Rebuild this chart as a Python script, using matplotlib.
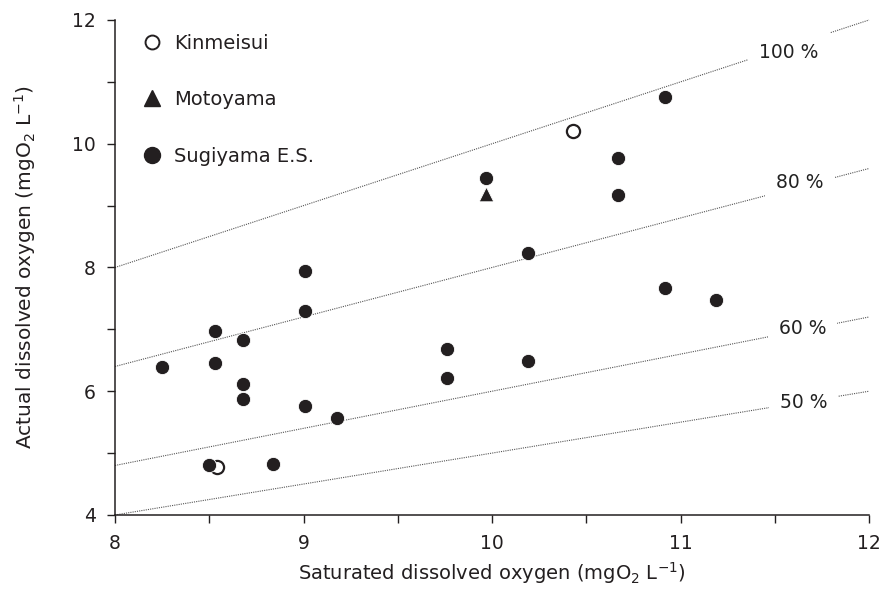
import matplotlib
matplotlib.use("Agg")
import matplotlib.pyplot as plt
from matplotlib.lines import Line2D
from matplotlib.ticker import MultipleLocator
import numpy as np

plt.rcParams['font.family'] = ['DejaVu Sans']

# Data
sugi_x = [8.25, 8.53, 8.53, 8.68, 8.68, 8.68, 8.50, 8.84, 9.01, 9.01, 9.01, 9.18,
          9.76, 9.76, 9.97, 10.19, 10.19, 10.67, 10.67, 10.92, 10.92, 11.19]
sugi_y = [6.39, 6.98, 6.45, 6.83, 6.11, 5.87, 4.80, 4.83, 7.95, 7.30, 5.76, 5.56,
          6.69, 6.22, 9.44, 8.23, 6.49, 9.77, 9.17, 10.75, 7.67, 7.47]
kin_x = [10.43, 8.54]
kin_y = [10.20, 4.77]
moto_x = [9.97]
moto_y = [9.18]

ratios = [1.0, 0.8, 0.6, 0.5]
ratio_labels = ["100 %", "80 %", "60 %", "50 %"]
label_x = [11.576, 11.634, 11.647, 11.652]
label_y = [11.48, 9.37, 7.02, 5.81]
line_x = [8, 12]

x_ticks = [8, 9, 10, 11, 12]
y_ticks = [4, 6, 8, 10, 12]

fig = plt.figure(figsize=(8.82, 5.97), dpi=100)
ax = fig.add_axes([0.1304, 0.1374, 0.8549, 0.8291])

for r, lab, lx, ly in zip(ratios, ratio_labels, label_x, label_y):
    xs = np.array(line_x, dtype=float)
    ax.plot(xs, r * xs, linestyle=(0, (1, 1)), color='#555555', lw=0.8, zorder=1,
            clip_on=False)
    ax.text(lx, ly, lab, ha='center', va='center', fontsize=13.5, color='#222222',
            zorder=2, bbox=dict(fc='white', ec='none', pad=8))

ax.scatter(kin_x, kin_y, s=90, facecolors='white', edgecolors='#231f20', linewidths=1.6,
           zorder=3, clip_on=False)
ax.scatter(moto_x, moto_y, s=110, marker='^', color='#231f20', edgecolors='white',
           linewidths=0.6, zorder=3, clip_on=False)
ax.scatter(sugi_x, sugi_y, s=105, color='#231f20', edgecolors='white', linewidths=0.6,
           zorder=4, clip_on=False)

ax.set_xlim(8, 12)
ax.set_ylim(4, 12)
ax.set_xticks(x_ticks)
ax.set_yticks(y_ticks)
ax.xaxis.set_minor_locator(MultipleLocator(0.5))
ax.yaxis.set_minor_locator(MultipleLocator(1))
ax.tick_params(which='both', direction='out', length=6, width=1, color='#231f20',
               labelsize=13.5, labelcolor='#231f20')
ax.tick_params(axis='x', pad=8)
ax.tick_params(axis='y', pad=8)
for s in ['top', 'right']:
    ax.spines[s].set_visible(False)
for s in ['left', 'bottom']:
    ax.spines[s].set_color('#231f20')
    ax.spines[s].set_linewidth(1.1)

ax.set_xlabel(r"Saturated dissolved oxygen (mgO$_2$ L$^{-1}$)", fontsize=14,
              color='#231f20', labelpad=5)
ax.set_ylabel(r"Actual dissolved oxygen (mgO$_2$ L$^{-1}$)", fontsize=14.5,
              color='#231f20', labelpad=24)

handles = [
    Line2D([], [], marker='o', ls='none', markersize=10, markerfacecolor='white',
           markeredgecolor='#231f20', markeredgewidth=1.4, label='Kinmeisui'),
    Line2D([], [], marker='^', ls='none', markersize=11, color='#231f20', label='Motoyama'),
    Line2D([], [], marker='o', ls='none', markersize=11.5, color='#231f20', label='Sugiyama E.S.'),
]
leg = ax.legend(handles=handles, loc='upper left', bbox_to_anchor=(0.026, 0.988),
                frameon=False, fontsize=14, labelspacing=1.93, handlelength=1.0,
                handletextpad=0.65, borderaxespad=0)
for t in leg.get_texts():
    t.set_color('#231f20')

fig.savefig("out.png", dpi=100)
